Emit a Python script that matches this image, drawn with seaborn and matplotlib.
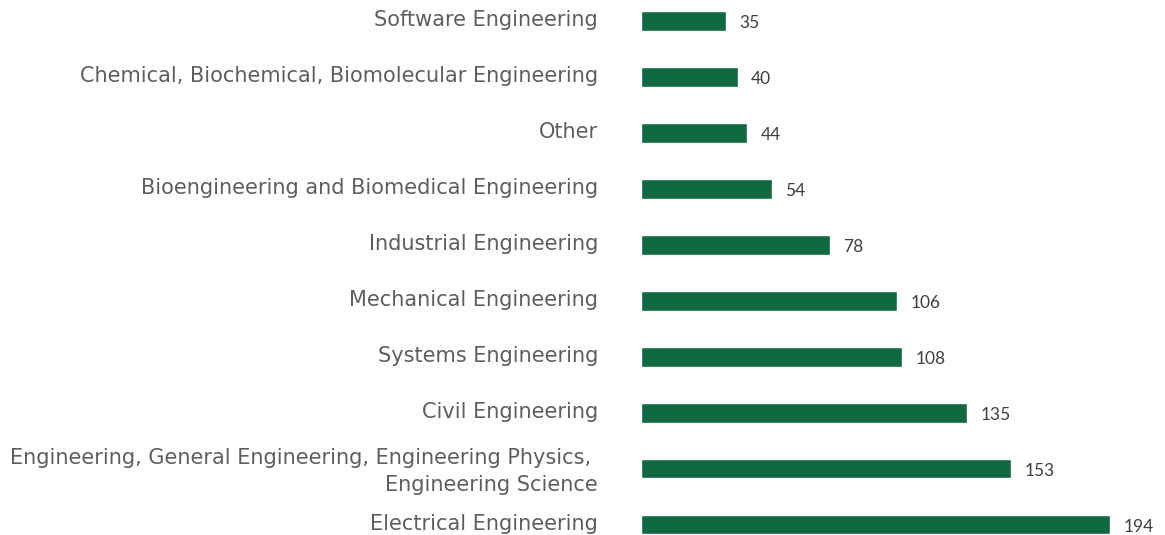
import matplotlib
matplotlib.use("Agg")
import matplotlib.pyplot as plt
import matplotlib.transforms as mtransforms
import seaborn as sns
import pandas as pd

categories = [
    "Software Engineering",
    "Chemical, Biochemical, Biomolecular Engineering",
    "Other",
    "Bioengineering and Biomedical Engineering",
    "Industrial Engineering",
    "Mechanical Engineering",
    "Systems Engineering",
    "Civil Engineering",
    "Engineering, General Engineering, Engineering Physics, \nEngineering Science",
    "Electrical Engineering",
]
counts = [35, 40, 44, 54, 78, 106, 108, 135, 153, 194]

df = pd.DataFrame({"category": categories, "count": counts})

sns.set_theme(style="white")
bar_color = "#116941"
label_color = "#5e5e5e"

fig = plt.figure(figsize=(11.65, 5.35), dpi=100)
ax = fig.add_axes([641 / 1165, 0, 519 / 1165, 1])

sns.barplot(data=df, x="count", y="category", color=bar_color, width=0.34,
            saturation=1, ax=ax, order=categories)

ax.set_xlim(0, 519 / 2.418)
ax.set_ylim(9.179, -0.375)
ax.set_xlabel("")
ax.set_ylabel("")
ax.set_xticks([])
sns.despine(ax=ax, left=True, bottom=True)
ax.tick_params(axis="y", length=0, pad=31)

# nudge the category labels up slightly
lift = mtransforms.ScaledTranslation(0, 2.5 / 100, fig.dpi_scale_trans)
for lbl in ax.get_yticklabels():
    lbl.set_fontfamily("DejaVu Sans")
    lbl.set_fontsize(15)
    lbl.set_color(label_color)
    lbl.set_linespacing(1.38)
    lbl.set_transform(lbl.get_transform() + lift)

for i, v in enumerate(counts):
    ax.text(v + 5.5, i + 0.03, f"{v}", va="center", ha="left", fontsize=12.5,
            family="Lato", color="#404040")

fig.savefig("out.png", dpi=100)
